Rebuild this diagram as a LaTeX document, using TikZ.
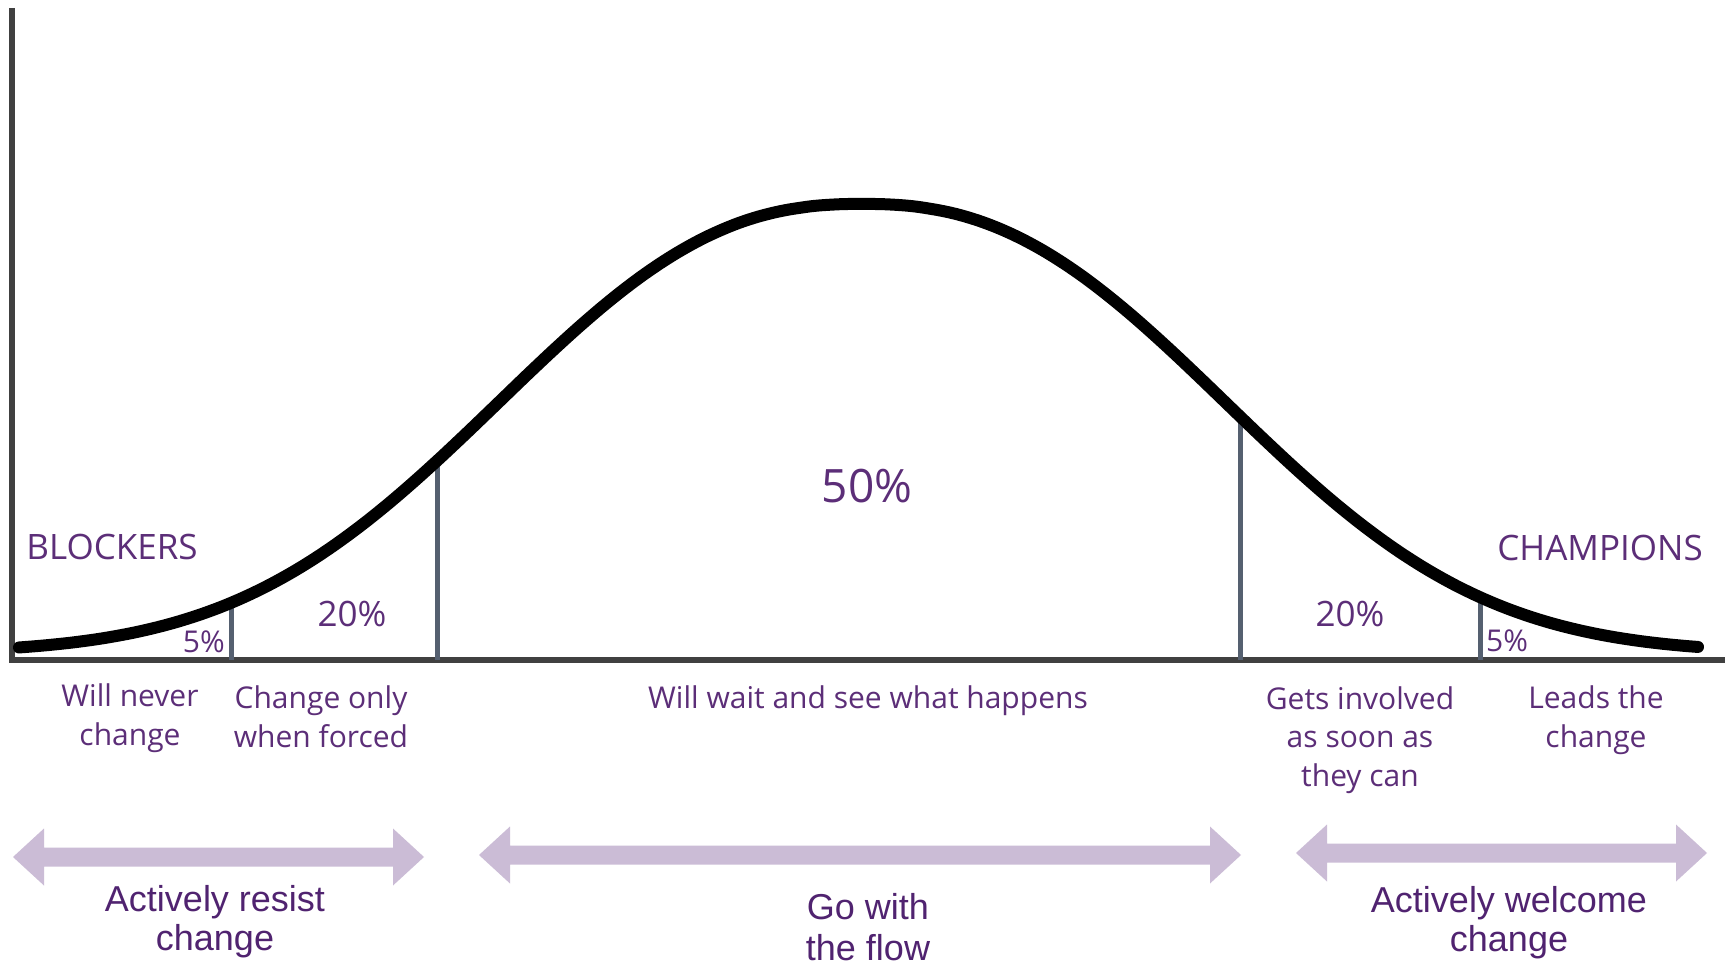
\documentclass[tikz,border=0pt]{standalone}
\usepackage{fontspec}
\setmainfont{Open Sans}
\newfontfamily\arialf{Liberation Sans}
\definecolor{txtpurple}{RGB}{92,46,120}
\definecolor{deeppurple}{RGB}{80,35,112}
\definecolor{axisgray}{RGB}{64,64,64}
\definecolor{divslate}{RGB}{85,96,112}
\definecolor{lavender}{RGB}{203,188,214}
\begin{document}
\begin{tikzpicture}[x=1pt,y=-1pt,
  axisline/.style={draw=axisgray,line width=5.5pt},
  divline/.style={draw=divslate,line width=5pt},
  bell/.style={draw=black,line width=12pt,line cap=round,line join=round},
  lbl/.style={font=\fontsize{30}{38.5}\selectfont,text=txtpurple,inner sep=0pt,align=center},
  grp/.style={font=\fontsize{35}{35}\selectfont,text=txtpurple,inner sep=0pt},
  pct/.style={font=\fontsize{35}{35}\selectfont,text=txtpurple,inner sep=0pt},
  smallpct/.style={font=\fontsize{30}{30}\selectfont,text=txtpurple,inner sep=0pt},
  bigpct/.style={font=\fontsize{46}{46}\selectfont,text=txtpurple,inner sep=0pt},
  cat/.style={font=\arialf\fontsize{36}{39}\selectfont,text=deeppurple,inner sep=0pt,align=center},
  catwide/.style={font=\arialf\fontsize{36}{41}\selectfont,text=deeppurple,inner sep=0pt,align=center},
  blockarrow/.style={fill=lavender}
]
\useasboundingbox (0,0) rectangle (1725,965);
\fill[white] (0,0) rectangle (1725,965);

% axes
\coordinate (ytop) at (12,8);
\coordinate (ybot) at (12,663);
\coordinate (xstart) at (9,660);
\coordinate (xend) at (1725,660);
\draw[axisline] (ytop) -- (ybot);
\draw[axisline] (xstart) -- (xend);

% dividers
\coordinate (d1b) at (231,660); \coordinate (d1t) at (231,603);
\coordinate (d2b) at (437,660); \coordinate (d2t) at (437,455);
\coordinate (d3b) at (1240,660); \coordinate (d3t) at (1240,413);
\coordinate (d4b) at (1480,660); \coordinate (d4t) at (1480,599);
\draw[divline] (d1b) -- (d1t);
\draw[divline] (d2b) -- (d2t);
\draw[divline] (d3b) -- (d3t);
\draw[divline] (d4b) -- (d4t);

% bell curve
\draw[bell] plot[domain=19:1698,samples=160,smooth] (\x,{653-449*exp(-((abs(\x-862)+0.01)/455)^2.4)});

% group names
\node[grp,anchor=base] (blockers) at (112,559) {BLOCKERS};
\node[grp,anchor=base] (champions) at (1600,560) {CHAMPIONS};

% percentages
\node[smallpct,anchor=base east] (p1) at (225,652) {5\%};
\node[pct,anchor=base] (p2) at (352,626) {20\%};
\node[bigpct,anchor=base] (p3) at (867,503) {50\%};
\node[pct,anchor=base] (p4) at (1350,626) {20\%};
\node[smallpct,anchor=base west] (p5) at (1486,651) {5\%};

% descriptions (anchored at the baseline of the last line)
\node[lbl,anchor=base] (t1) at (130,745) {Will never\\change};
\node[lbl,anchor=base] (t2) at (321,747) {Change only\\when forced};
\node[lbl,anchor=base] (t3) at (868,708) {Will wait and see what happens};
\node[lbl,anchor=base] (t4) at (1360,786) {Gets involved\\as soon as\\they can};
\node[lbl,anchor=base] (t5) at (1596,747) {Leads the\\change};

% block arrows
\newcommand{\dblarrow}[3]{% x1, x2, ycenter
  \fill[blockarrow] (#1,#3) -- ({#1+31},{#3-28.5}) -- ({#1+31},{#3-9.5}) -- ({#2-31},{#3-9.5}) -- ({#2-31},{#3-28.5}) -- (#2,#3) -- ({#2-31},{#3+28.5}) -- ({#2-31},{#3+9.5}) -- ({#1+31},{#3+9.5}) -- ({#1+31},{#3+28.5}) -- cycle;}
\dblarrow{13}{424}{857}
\dblarrow{479}{1241}{855}
\dblarrow{1296}{1707}{853}

% category labels (anchored at the baseline of the last line)
\node[cat,anchor=base] (c1) at (215,950) {Actively resist\\change};
\node[catwide,anchor=base] (c2) at (868,960) {Go with\\the flow};
\node[cat,anchor=base] (c3) at (1509,951) {Actively welcome\\change};
\end{tikzpicture}
\end{document}
